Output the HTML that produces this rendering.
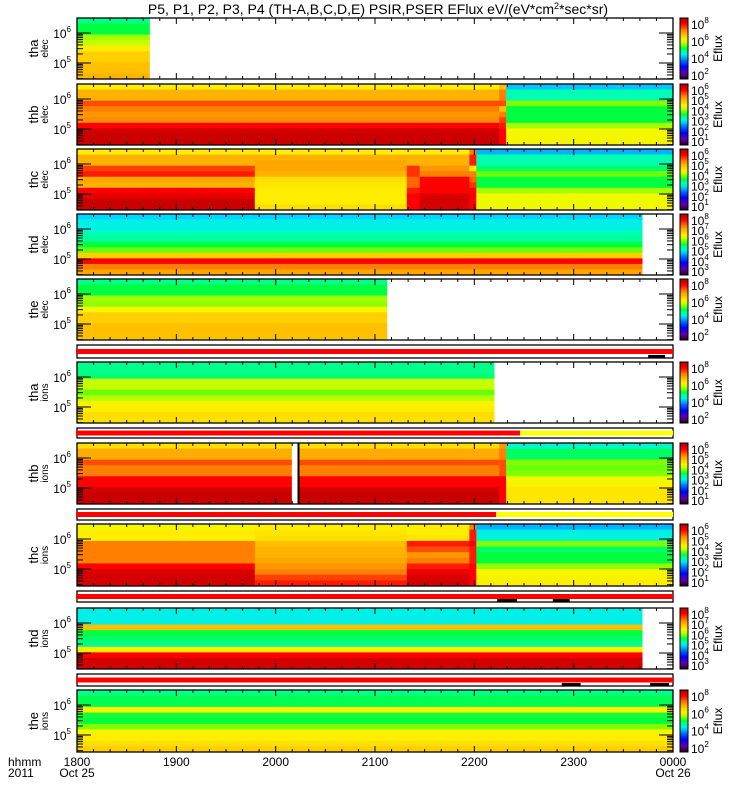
<!DOCTYPE html>
<html><head><meta charset="utf-8"><style>
html,body{margin:0;padding:0;background:#fff;}
svg{display:block;font-family:"Liberation Sans",sans-serif;}
</style></head><body>
<svg id="chart" width="750" height="800" viewBox="0 0 750 800">
<text x="378" y="14" font-size="14" text-anchor="middle">P5, P1, P2, P3, P4 (TH-A,B,C,D,E) PSIR,PSER EFlux eV/(eV*cm<tspan font-size="9" dy="-5">2</tspan><tspan dy="5">*sec*sr)</tspan></text>
</svg>
<script>
// ---- data ----
const hourLabels = ["1800","1900","2000","2100","2200","2300","0000"];
const panelNames = ["tha","thb","thc","thd","the","tha","thb","thc","thd","the"];
const panelKinds = ["elec","elec","elec","elec","elec","ions","ions","ions","ions","ions"];
// segment boundaries (hours since 18:00) and band values (0..1 colour scale, top→bottom)
const thaElecTimes = [0,0.73];
const thaElecVals = [[0.46,0.5,0.5,0.58,0.6,0.66,0.7,0.7,0.72,0.72,0.74]];
const thbElecTimes = [0,4.25,4.32,6];
const thbElecVals = [[0.66,0.74,0.74,0.84,0.8,0.78,0.79,0.9,0.95,0.96,0.96],
 [0.72,0.8,0.8,0.84,0.72,0.8,0.85,0.88,0.9,0.9,0.9],
 [0.36,0.44,0.44,0.56,0.5,0.5,0.5,0.58,0.64,0.64,0.64]];
const thcElecTimes = [0,1.79,3.32,3.45,3.95,4.02,6];
const thcElecVals = [[0.66,0.74,0.74,0.85,0.88,0.76,0.74,0.9,0.93,0.96,0.96],
 [0.66,0.74,0.76,0.76,0.74,0.68,0.67,0.66,0.66,0.66,0.68],
 [0.66,0.74,0.74,0.86,0.86,0.82,0.82,0.88,0.9,0.9,0.9],
 [0.66,0.74,0.74,0.78,0.8,0.9,0.9,0.9,0.94,0.95,0.94],
 [0.8,0.88,0.88,0.66,0.8,0.82,0.86,0.9,0.9,0.9,0.9],
 [0.35,0.44,0.44,0.48,0.55,0.5,0.5,0.58,0.63,0.63,0.64]];
const thdElecTimes = [0,5.69];
const thdElecVals = [[0.37,0.4,0.4,0.44,0.45,0.5,0.55,0.7,0.9,0.8,0.76]];
const theElecTimes = [0,3.12];
const theElecVals = [[0.46,0.5,0.5,0.58,0.57,0.64,0.7,0.7,0.72,0.72,0.72]];
const thaIonsTimes = [0,4.2];
const thaIonsVals = [[0.46,0.46,0.47,0.6,0.6,0.55,0.59,0.65,0.66,0.68,0.68]];
const thbIonsTimes = [0,2.16,2.24,4.25,4.32,6];
const thbIonsVals = [[0.68,0.75,0.75,0.84,0.8,0.8,0.9,0.9,0.95,0.96,0.96],
 null,
 [0.68,0.75,0.75,0.84,0.8,0.8,0.9,0.9,0.95,0.96,0.96],
 [0.78,0.8,0.8,0.84,0.84,0.84,0.9,0.9,0.9,0.9,0.9],
 [0.42,0.48,0.48,0.56,0.55,0.56,0.63,0.65,0.67,0.67,0.67]];
const thcIonsTimes = [0,1.79,3.32,3.95,4.02,6];
const thcIonsVals = [[0.64,0.66,0.66,0.8,0.8,0.8,0.8,0.9,0.94,0.95,0.95],
 [0.66,0.67,0.68,0.72,0.74,0.74,0.76,0.78,0.8,0.85,0.88],
 [0.66,0.66,0.67,0.88,0.84,0.78,0.8,0.88,0.92,0.94,0.95],
 [0.8,0.88,0.88,0.9,0.88,0.88,0.88,0.9,0.9,0.9,0.9],
 [0.35,0.4,0.41,0.56,0.48,0.5,0.5,0.57,0.64,0.65,0.66]];
const thdIonsTimes = [0,5.69];
const thdIonsVals = [[0.4,0.4,0.4,0.72,0.5,0.48,0.46,0.66,0.9,0.95,0.95]];
const theIonsTimes = [0,6];
const theIonsVals = [[0.46,0.49,0.49,0.65,0.51,0.5,0.56,0.65,0.66,0.68,0.7]];
// colorbar exponent labels per panel
const cbLabels8 = ["8","6","4","2"];
const cbLabels6 = ["6","5","4","3","2","1"];
const cbLabels83 = ["8","7","6","5","4","3"];
// status bars: red-until time, then yellow
const barRedUntil = [6,4.46,4.22,6,6];
const barMarkStarts = [[5.75],[],[],[4.23,4.79],[4.88,5.77]];
const barMarkEnds = [[5.92],[],[],[4.43,4.96],[5.07,5.96]];

// ---- layout ----
const X0=77, X1=673;
const xs = h => X0 + (X1-X0)*h/6;
const panelGeom = [[18,79],[84,145],[149,210],[214,275],[279,340],[362,423],[443,504],[524,586],[608,669],[690,752]];
const barGeom = [[345,358],[428,438],[509,520],[591,602],[674,686]];
const allTimes=[thaElecTimes,thbElecTimes,thcElecTimes,thdElecTimes,theElecTimes,thaIonsTimes,thbIonsTimes,thcIonsTimes,thdIonsTimes,theIonsTimes];
const allVals=[thaElecVals,thbElecVals,thcElecVals,thdElecVals,theElecVals,thaIonsVals,thbIonsVals,thcIonsVals,thdIonsVals,theIonsVals];
const allCb=[cbLabels8,cbLabels6,cbLabels6,cbLabels83,cbLabels8,cbLabels8,cbLabels6,cbLabels6,cbLabels83,cbLabels8];

const stops=[[0,[16,0,16]],[0.08,[112,0,160]],[0.2,[0,0,255]],[0.33,[0,144,255]],[0.38,[0,232,255]],[0.44,[0,255,176]],[0.5,[0,255,64]],[0.56,[128,255,0]],[0.62,[232,255,0]],[0.66,[255,238,0]],[0.72,[255,192,0]],[0.78,[255,152,0]],[0.85,[255,64,0]],[0.9,[255,0,0]],[0.97,[192,0,0]],[1,[176,0,0]]];
function cmap(v){
  for(let i=1;i<stops.length;i++){ if(v<=stops[i][0]){const a=stops[i-1],b=stops[i];const f=(v-a[0])/(b[0]-a[0]);
    const c=a[1].map((x,k)=>Math.round(x+(b[1][k]-x)*f));return `rgb(${c})`;}}
  return 'rgb(176,0,0)';
}
const NS="http://www.w3.org/2000/svg";
const svg=document.getElementById('chart');
function el(tag,attrs,parent){const e=document.createElementNS(NS,tag);for(const k in attrs)e.setAttribute(k,attrs[k]);(parent||svg).appendChild(e);return e;}

const defs=el('defs',{});
const grad=el('linearGradient',{id:'cbgrad',x1:0,y1:1,x2:0,y2:0},defs);
for(let i=0;i<=20;i++){el('stop',{offset:i/20,'stop-color':cmap(i/20)},grad);}

panelGeom.forEach((g,pi)=>{
  const [y0,y1]=g; const grp=el('g',{});
  
  
  const times=allTimes[pi], vals=allVals[pi];
  vals.forEach((bands,si)=>{
    if(!bands) return;
    const nb=bands.length, bh=(y1-y0)/nb;
    bands.forEach((v,bi)=>{
      const r=el('rect',{x:xs(times[si]),y:y0+bi*bh,width:xs(times[si+1])-xs(times[si])+0.3,height:bh+0.3,fill:cmap(v)},grp);
      
      
    });
  });
  if(pi===6){ el('rect',{x:xs(2.24)-2,y:y0,width:2,height:y1-y0,fill:'#000'},grp); }
  el('rect',{x:X0,y:y0,width:X1-X0,height:y1-y0,fill:'none',stroke:'#000','stroke-width':1.3},grp);
  for(let m=0;m<=36;m++){const x=xs(m/6);const L=(m%6===0)?6:3;
    el('line',{x1:x,y1:y0,x2:x,y2:y0+L,stroke:'#000'},grp);el('line',{x1:x,y1:y1,x2:x,y2:y1-L,stroke:'#000'},grp);}
  const majors=[y0+15,y0+45], dec=30;
  majors.forEach((ym,mi)=>{
    [X0,X1].forEach((xb,side)=>{const d=side?-1:1;
      el('line',{x1:xb,y1:ym,x2:xb+d*14,y2:ym,stroke:'#000'},grp);
      for(let k=2;k<=9;k++){const yy=ym+dec*(1-Math.log10(k)); if(yy<y1) el('line',{x1:xb,y1:yy,x2:xb+d*6,y2:yy,stroke:'#000'},grp);}
    });
    const t=el('text',{x:71,y:ym+5,'font-size':12,'text-anchor':'end'},grp);
    t.textContent='10';
    
    
    const s=el('tspan',{'font-size':8,dy:-6},t); s.textContent=mi===0?'6':'5';
  });
  const cy=(y0+y1)/2;
  const l1=el('text',{x:0,y:0,'font-size':13,'text-anchor':'middle',transform:`translate(38,${cy}) rotate(-90)`},grp);
  l1.textContent=panelNames[pi];
  
  
  const l2=el('text',{x:0,y:0,'font-size':10,'text-anchor':'middle',transform:`translate(48,${cy}) rotate(-90)`},grp);
  l2.textContent=panelKinds[pi];
  
  
  const cb=el('rect',{x:680,y:y0,width:8,height:y1-y0,fill:'url(#cbgrad)',stroke:'#000','stroke-width':1},grp);
  
  
  const labs=allCb[pi]; const n=labs.length;
  labs.forEach((e,i)=>{const y=y0+6+(y1-y0-10)*i/(n-1);
    const t=el('text',{x:691,y:y+5,'font-size':12},grp);t.textContent='10';
    
    
    const s=el('tspan',{'font-size':8,dy:-6},t);s.textContent=e;});
  const ef=el('text',{x:0,y:0,'font-size':12,'text-anchor':'middle',transform:`translate(722,${cy}) rotate(-90)`},grp);
  ef.textContent='Eflux';
  
  
});

barGeom.forEach((g,bi)=>{
  const [y0,y1]=g; const grp=el('g',{});
  
  
  el('rect',{x:X0,y:y0,width:X1-X0,height:y1-y0,fill:'#fff',stroke:'#000','stroke-width':1.3},grp);
  const ym=(y0+y1)/2;
  el('rect',{x:X0-1,y:ym-2.5,width:xs(barRedUntil[bi])-X0+1,height:5,fill:'#ff0000'},grp);
  if(barRedUntil[bi]<6) el('rect',{x:xs(barRedUntil[bi]),y:ym-2.5,width:X1-xs(barRedUntil[bi]),height:5,fill:'#ffff00'},grp);
  barMarkStarts[bi].forEach((s,i)=>{el('rect',{x:xs(s),y:y1-3,width:xs(barMarkEnds[bi][i])-xs(s),height:3,fill:'#000'},grp);});
});

hourLabels.forEach((h,i)=>{const t=el('text',{x:xs(i),y:766,'font-size':12,'text-anchor':'middle'});t.textContent=h;
  
  });
[['hhmm',8,766],['2011',8,777]].forEach(a=>{const t=el('text',{x:a[1],y:a[2],'font-size':12});t.textContent=a[0];
  
  });
[['Oct 25',xs(0)],['Oct 26',xs(6)]].forEach(a=>{const t=el('text',{x:a[1],y:777,'font-size':12,'text-anchor':'middle'});t.textContent=a[0];
  
  });
</script>
</body></html>
